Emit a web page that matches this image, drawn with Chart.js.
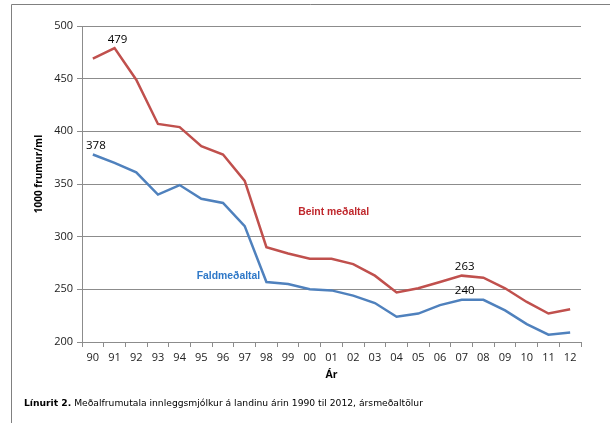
<!DOCTYPE html>
<html>
<head>
<meta charset="utf-8">
<script src="https://cdn.jsdelivr.net/npm/chart.js@4"></script>
<style>
  html, body { margin: 0; padding: 0; background: #fff; }
  #wrap { width: 610px; height: 423px; position: relative; }
</style>
</head>
<body>
<div id="wrap"><canvas id="chart"></canvas></div>
<script>
// Ár (1990 - 2012)
const years = ['90','91','92','93','94','95','96','97','98','99','00','01','02','03','04','05','06','07','08','09','10','11','12'];

// Beint meðaltal
const beint = [469, 479, 449, 407, 404, 386, 378, 353, 290, 284, 279, 279, 274, 263, 247, 251, 257, 263, 261, 251, 238, 227, 231];

// Faldmeðaltal
const fald = [378, 370, 361, 340, 349, 336, 332, 310, 257, 255, 250, 249, 244, 237, 224, 227, 235, 240, 240, 230, 217, 207, 209];

// Gildi sem eru merkt á línuritinu (index)
const beintLabels = [1, 17];
const faldLabels = [0, 17];

const yTicks = [200, 250, 300, 350, 400, 450, 500];

const RED = '#c0504d';
const BLUE = '#4f81bd';
const GRID = '#8c8c8c';

// Teiknar ramma, texta og gildismerki
const extrasPlugin = {
    id: 'extras',
    afterDraw(chart) {
        const c = chart.ctx;
        const xs = chart.scales.x;
        const ys = chart.scales.y;
        c.save();

        // rammi
        c.strokeStyle = '#808080';
        c.lineWidth = 1;
        c.beginPath();
        c.moveTo(610, 4.5);
        c.lineTo(11.5, 4.5);
        c.lineTo(11.5, 423);
        c.stroke();

        // gildismerki
        c.fillStyle = '#000';
        c.font = '11.5px "Open Sans", sans-serif';
        c.textAlign = 'center';
        c.textBaseline = 'bottom';
        const drawVals = (dsIndex, idxs, arr) => {
            const meta = chart.getDatasetMeta(dsIndex);
            idxs.forEach(i => {
                const p = meta.data[i];
                c.fillText(String(arr[i]), p.x + 3, p.y - 3);
            });
        };
        drawVals(0, beintLabels, beint);
        drawVals(1, faldLabels, fald);

        // heiti raða
        c.font = 'bold 10.4px "Liberation Sans", Arial, sans-serif';
        c.textBaseline = 'middle';
        c.fillStyle = '#c0282d';
        c.fillText('Beint meðaltal', xs.getPixelForValue(11.1), ys.getPixelForValue(323));
        c.fillStyle = '#2e78c8';
        c.fillText('Faldmeðaltal', xs.getPixelForValue(6.25), ys.getPixelForValue(262.5));

        // ásaheiti
        c.fillStyle = '#000';
        c.font = 'bold 10.5px "Open Sans", sans-serif';
        c.fillText('Ár', (chart.chartArea.left + chart.chartArea.right) / 2, 375);
        c.save();
        c.translate(39, 174);
        c.rotate(-Math.PI / 2);
        c.font = 'bold 10px "Open Sans", sans-serif';
        c.fillText('1000 frumur/ml', 0, 0);
        c.restore();

        // myndatexti
        c.textAlign = 'left';
        c.font = 'bold 9.2px "DejaVu Sans", sans-serif';
        const lead = 'Línurit 2.';
        c.fillText(lead, 24, 404);
        const w = c.measureText(lead).width;
        c.font = '9.2px "DejaVu Sans", sans-serif';
        c.fillText(' Meðalfrumutala innleggsmjólkur á landinu árin 1990 til 2012, ársmeðaltölur', 24 + w, 404);

        c.restore();
    }
};

const ctx = document.getElementById('chart').getContext('2d');
const chart = new Chart(ctx, {
    type: 'line',
    data: {
        labels: years,
        datasets: [{
            label: 'Beint meðaltal',
            data: beint,
            borderColor: RED,
            borderWidth: 2.5,
            pointRadius: 0,
            tension: 0
        }, {
            label: 'Faldmeðaltal',
            data: fald,
            borderColor: BLUE,
            borderWidth: 2.5,
            pointRadius: 0,
            tension: 0
        }]
    },
    options: {
        responsive: true,
        maintainAspectRatio: false,
        animation: false,
        layout: { padding: { left: 12, right: 29, top: 26, bottom: 36 } },
        plugins: {
            legend: { display: false },
            tooltip: { enabled: false }
        },
        scales: {
            x: {
                offset: true,
                grid: {
                    offset: true,
                    drawOnChartArea: false,
                    drawTicks: true,
                    tickLength: 5,
                    color: GRID
                },
                border: { color: GRID },
                ticks: {
                    color: '#222',
                    font: { family: '"Open Sans", sans-serif', size: 11 },
                    padding: 4,
                    maxRotation: 0,
                    autoSkip: false
                },
                afterFit(scale) { scale.height = 45; }
            },
            y: {
                min: 200,
                max: 500,
                afterBuildTicks(scale) { scale.ticks = yTicks.map(v => ({ value: v })); },
                grid: {
                    color: GRID,
                    tickLength: 5
                },
                border: { color: GRID },
                ticks: {
                    color: '#222',
                    font: { family: '"Open Sans", sans-serif', size: 11 },
                    padding: 4
                },
                afterFit(scale) { scale.width = 70; }
            }
        }
    },
    plugins: [extrasPlugin]
});
</script>
</body>
</html>
